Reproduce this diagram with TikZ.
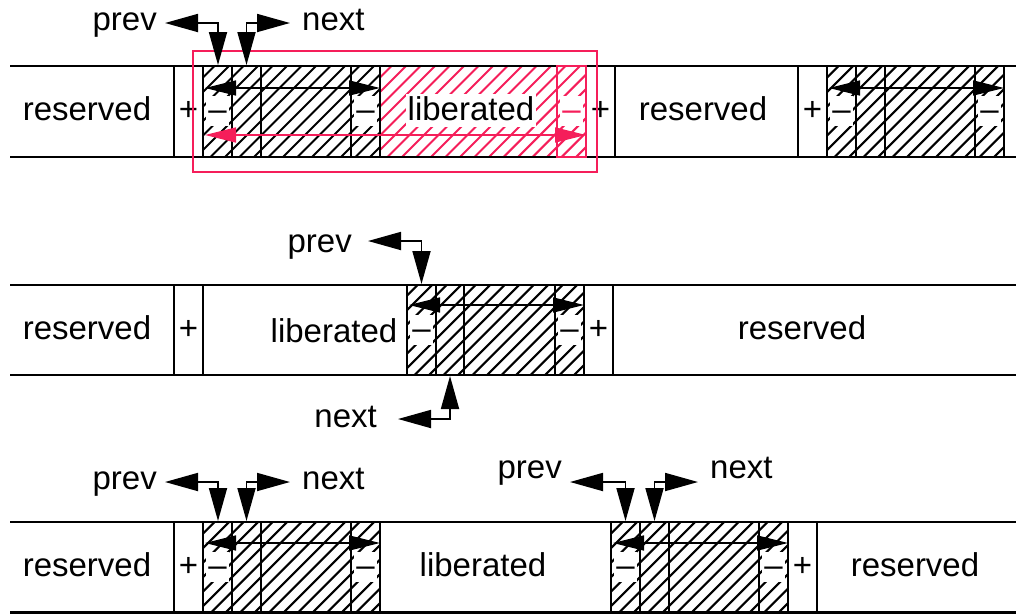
\documentclass[tikz,border=0pt]{standalone}
\usepackage{fontspec}
\setmainfont{Liberation Sans}
\usetikzlibrary{arrows.meta}
\definecolor{libred}{RGB}{245,30,90}
\tikzset{
  rowline/.style={line width=2.6pt},
  cellline/.style={line width=2pt},
  hatchline/.style={line width=2.1pt},
  ptr/.style={line width=1.8pt,{Triangle[length=33pt,width=18pt]}-{Triangle[length=33pt,width=18pt]}},
  link/.style={line width=1.6pt,{Triangle[length=31pt,width=15pt]}-{Triangle[length=31pt,width=15pt]}},
  txt/.style={font=\fontsize{33}{40}\selectfont,inner sep=0pt,anchor=base},
  sign/.style={txt,fill=white,text height=24pt,text depth=6pt,minimum width=23pt},
  lbl/.style={font=\fontsize{33}{40}\selectfont,inner sep=0pt},
}
\newcommand\hatchrect[5]{%
  \begin{scope}
    \clip (#1,#2) rectangle (#3,#4);
    \foreach \k in {0,...,26}{
      \draw[hatchline,#5] ({#1-96+14.5*\k},#4+2) -- ++(97,-97);
    }
  \end{scope}}
\begin{document}
\begin{tikzpicture}[x=1pt,y=-1pt]
\useasboundingbox (0,0) rectangle (1016,614);

% ---------------- hatching ----------------
\hatchrect{203}{66}{380}{157}{black}
\hatchrect{380}{66}{586}{157}{libred}
\hatchrect{827}{66}{1004}{157}{black}
\hatchrect{407}{285}{584}{375}{black}
\hatchrect{203}{522}{380}{613}{black}
\hatchrect{611}{522}{788}{613}{black}

% ---------------- row 1 ----------------
\node[txt] (r1a) at (87,120) {reserved};
\node[txt] (r1p1) at (188.5,120) {+};
\node[sign] (r1m1) at (217.5,120) {–};
\node[sign] (r1m2) at (365.5,120) {–};
\node[txt,fill=white,inner sep=2pt,text depth=5pt] (r1l) at (471,120) {liberated};
\node[sign,text=libred] (r1m3) at (571.5,120) {–};
\node[txt] (r1p2) at (600.5,120) {+};
\node[txt] (r1b) at (703,120) {reserved};
\node[txt] (r1p3) at (812.5,120) {+};
\node[sign] (r1m4) at (841.5,120) {–};
\node[sign] (r1m5) at (989.5,120) {–};
\foreach \x in {174,203,232,261,351,380,615,798,827,856,885,975,1004}
  \draw[cellline] (\x,66) -- (\x,157);
\draw[rowline] (10,66) -- (1016,66);
\draw[rowline] (10,157) -- (1016,157);
\draw[cellline,libred] (557,66) rectangle (586,157);
\coordinate (r1s1) at (205,88); \coordinate (r1e1) at (380,88);
\draw[link] (r1s1) -- (r1e1);
\coordinate (r1s2) at (829,88); \coordinate (r1e2) at (1004,88);
\draw[link] (r1s2) -- (r1e2);
\coordinate (r1s3) at (205,135); \coordinate (r1e3) at (586,135);
\draw[link,libred] (r1s3) -- (r1e3);
\draw[cellline,libred] (193,51) rectangle (597,172);
% prev / next
\node[lbl,anchor=base east] (prev1) at (157,30) {prev};
\node[lbl,anchor=base west] (next1) at (302,30) {next};
\coordinate (prev1t) at (165,23); \coordinate (prev1c) at (218,65);
\coordinate (next1t) at (290,23); \coordinate (next1c) at (246.5,65);
\draw[ptr] (prev1t) -| (prev1c);
\draw[ptr] (next1t) -| (next1c);

% ---------------- row 2 ----------------
\node[txt] (r2a) at (87,339) {reserved};
\node[txt] (r2p1) at (188.5,339) {+};
\node[txt] (r2l) at (334,342) {liberated};
\node[sign] (r2m1) at (421.5,339) {–};
\node[sign] (r2m2) at (569.5,339) {–};
\node[txt] (r2p2) at (598.5,339) {+};
\node[txt] (r2b) at (802,339) {reserved};
\foreach \x in {174,203,407,436,464,555,584,613}
  \draw[cellline] (\x,285) -- (\x,375);
\draw[rowline] (10,285) -- (1016,285);
\draw[rowline] (10,375) -- (1016,375);
\coordinate (r2s1) at (409,305); \coordinate (r2e1) at (584,305);
\draw[link] (r2s1) -- (r2e1);
\node[lbl,anchor=base east] (prev2) at (352,252) {prev};
\node[lbl,anchor=base east] (next2) at (377,427) {next};
\coordinate (prev2t) at (368,241); \coordinate (prev2c) at (421.5,284);
\coordinate (next2t) at (398,419); \coordinate (next2c) at (450,376);
\draw[ptr] (prev2t) -| (prev2c);
\draw[ptr] (next2t) -| (next2c);

% ---------------- row 3 ----------------
\node[txt] (r3a) at (87,576) {reserved};
\node[txt] (r3p1) at (188.5,576) {+};
\node[sign] (r3m1) at (217.5,576) {–};
\node[sign] (r3m2) at (365.5,576) {–};
\node[txt] (r3l) at (483,576) {liberated};
\node[sign] (r3m3) at (625.5,576) {–};
\node[sign] (r3m4) at (773.5,576) {–};
\node[txt] (r3p2) at (802.5,576) {+};
\node[txt] (r3b) at (915,576) {reserved};
\foreach \x in {174,203,232,261,351,380,611,640,669,759,788,817}
  \draw[cellline] (\x,522) -- (\x,613);
\draw[rowline] (10,522) -- (1016,522);
\draw[rowline] (10,612.5) -- (1016,612.5);
\coordinate (r3s1) at (205,543); \coordinate (r3e1) at (380,543);
\draw[link] (r3s1) -- (r3e1);
\coordinate (r3s2) at (613,543); \coordinate (r3e2) at (788,543);
\draw[link] (r3s2) -- (r3e2);
\node[lbl,anchor=base east] (prev3) at (157,489) {prev};
\node[lbl,anchor=base west] (next3) at (302,489) {next};
\coordinate (prev3t) at (165,482); \coordinate (prev3c) at (218,521);
\coordinate (next3t) at (290,482); \coordinate (next3c) at (246.5,521);
\draw[ptr] (prev3t) -| (prev3c);
\draw[ptr] (next3t) -| (next3c);
\node[lbl,anchor=base east] (prev4) at (562,478) {prev};
\node[lbl,anchor=base west] (next4) at (710,478) {next};
\coordinate (prev4t) at (570,482); \coordinate (prev4c) at (625.5,521);
\coordinate (next4t) at (698,482); \coordinate (next4c) at (654.5,521);
\draw[ptr] (prev4t) -| (prev4c);
\draw[ptr] (next4t) -| (next4c);
\end{tikzpicture}
\end{document}
